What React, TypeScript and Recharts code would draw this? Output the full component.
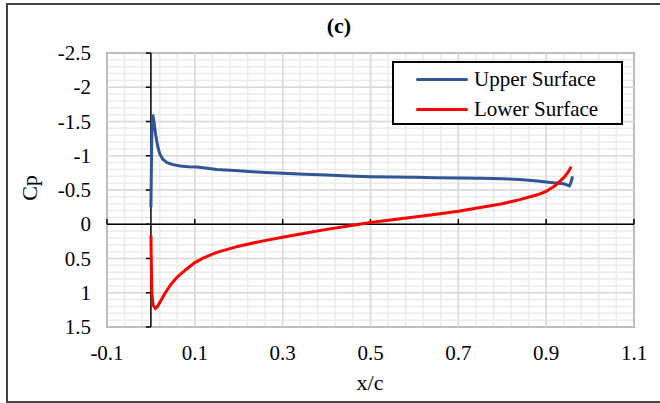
import React from 'react';
import {
  LineChart,
  Line,
  XAxis,
  YAxis,
  CartesianGrid,
  ReferenceLine,
  ReferenceArea,
} from 'recharts';

// Cp distribution, panel (c)
const upperX = [0, 0.001, 0.002, 0.004, 0.007, 0.011, 0.016, 0.02, 0.027, 0.037, 0.05, 0.067, 0.085, 0.105, 0.15, 0.2, 0.25, 0.3, 0.35, 0.4, 0.45, 0.5, 0.55, 0.6, 0.65, 0.7, 0.75, 0.8, 0.84, 0.88, 0.91, 0.94, 0.953, 0.957, 0.96];
const upperCp = [-0.25, -0.8, -1.3, -1.6, -1.5, -1.3, -1.12, -1.03, -0.95, -0.9, -0.87, -0.85, -0.84, -0.835, -0.8, -0.78, -0.76, -0.745, -0.73, -0.72, -0.705, -0.695, -0.69, -0.685, -0.68, -0.675, -0.67, -0.665, -0.655, -0.63, -0.61, -0.59, -0.56, -0.62, -0.7];

const lowerX = [0, 0.001, 0.002, 0.005, 0.01, 0.015, 0.022, 0.033, 0.045, 0.06, 0.08, 0.1, 0.12, 0.15, 0.2, 0.25, 0.3, 0.35, 0.4, 0.45, 0.5, 0.55, 0.6, 0.65, 0.7, 0.75, 0.8, 0.84, 0.88, 0.9, 0.92, 0.94, 0.95, 0.957];
const lowerCp = [0.16, 0.6, 1.0, 1.18, 1.23, 1.2, 1.12, 1.0, 0.88, 0.77, 0.66, 0.56, 0.49, 0.41, 0.32, 0.25, 0.19, 0.13, 0.075, 0.025, -0.025, -0.065, -0.105, -0.145, -0.19, -0.245, -0.3, -0.36, -0.43, -0.48, -0.56, -0.68, -0.76, -0.84];

const xMajor = [-0.1, 0.1, 0.3, 0.5, 0.7, 0.9, 1.1];
const yMajor = [-2.5, -2, -1.5, -1, -0.5, 0, 0.5, 1, 1.5];

const seriesNames = ['Upper Surface', 'Lower Surface'];
const seriesColors = ['#2F5597', '#FF0000'];

// minor grid steps
const xMinor: number[] = [];
for (let i = 0; i <= 30; i++) xMinor.push(Math.round((-0.1 + i * 0.04) * 1000) / 1000);
const yMinor: number[] = [];
for (let i = 0; i <= 40; i++) yMinor.push(Math.round((-2.5 + i * 0.1) * 1000) / 1000);

const upperData = upperX.map((x, i) => ({ x, cp: upperCp[i] }));
const lowerData = lowerX.map((x, i) => ({ x, cp: lowerCp[i] }));

const font = '"Liberation Serif", "Times New Roman", serif';

const isMajor = (v: number, list: number[]) => list.some((m) => Math.abs(m - v) < 1e-6);

const XTick = (props: any) => {
  const { x, y, payload } = props;
  if (!isMajor(payload.value, xMajor)) return null;
  return (
    <text x={x} y={y + 33} textAnchor="middle" fontSize={21} fill="#000" style={{ fontFamily: font }}>
      {String(payload.value)}
    </text>
  );
};

const YTick = (props: any) => {
  const { x, y, payload } = props;
  if (!isMajor(payload.value, yMajor)) return null;
  return (
    <text x={x - 16} y={y + 7} textAnchor="end" fontSize={21} fill="#000" style={{ fontFamily: font }}>
      {String(payload.value)}
    </text>
  );
};

export default function App() {
  return (
    <div
      style={{
        position: 'absolute',
        left: 0,
        top: 0,
        width: 660,
        height: 403,
        overflow: 'hidden',
        background: '#fff',
        fontFamily: font,
      }}
    >
      <div
        style={{
          position: 'absolute',
          left: 6,
          top: 3,
          width: 700,
          height: 396,
          border: '2px solid #444',
        }}
      />
      <div style={{ position: 'absolute', left: 0, top: 0 }}>
        <LineChart
          width={660}
          height={403}
          margin={{ top: 53, right: 26, bottom: 0, left: 17 }}
        >
          <CartesianGrid stroke="#EBEBEB" strokeWidth={1.5} />
          <XAxis
            dataKey="x"
            type="number"
            domain={[-0.1, 1.1]}
            ticks={xMinor}
            interval={0}
            allowDataOverflow
            axisLine={false}
            tickLine={false}
            tickSize={0}
            tickMargin={0}
            height={76}
            tick={<XTick />}
          />
          <YAxis
            dataKey="cp"
            type="number"
            reversed
            domain={[-2.5, 1.5]}
            ticks={yMinor}
            interval={0}
            allowDataOverflow
            axisLine={false}
            tickLine={false}
            tickSize={0}
            tickMargin={0}
            width={90}
            tick={<YTick />}
          />
          {xMajor.map((v) => (
            <ReferenceLine key={'gx' + v} x={v} stroke="#D9D9D9" strokeWidth={1.5} />
          ))}
          {yMajor.map((v) => (
            <ReferenceLine key={'gy' + v} y={v} stroke="#D9D9D9" strokeWidth={1.5} />
          ))}
          <ReferenceArea
            x1={-0.1}
            x2={1.1}
            y1={-2.5}
            y2={1.5}
            fill="none"
            fillOpacity={0}
            stroke="#404040"
            strokeWidth={1.5}
          />
          <ReferenceLine x={0} stroke="#000" strokeWidth={1.5} />
          <ReferenceLine y={0} stroke="#000" strokeWidth={1.5} />
          {xMajor.map((v) => (
            <ReferenceLine
              key={'tx' + v}
              segment={[{ x: v, y: 0 }, { x: v, y: -0.075 }]}
              stroke="#000"
              strokeWidth={1.5}
            />
          ))}
          {yMajor.map((v) => (
            <ReferenceLine
              key={'ty' + v}
              segment={[{ x: -0.0115, y: v }, { x: 0, y: v }]}
              stroke="#000"
              strokeWidth={1.5}
            />
          ))}
          <Line
            data={upperData}
            dataKey="cp"
            name={seriesNames[0]}
            type="linear"
            stroke={seriesColors[0]}
            strokeWidth={3}
            dot={false}
            isAnimationActive={false}
          />
          <Line
            data={lowerData}
            dataKey="cp"
            name={seriesNames[1]}
            type="linear"
            stroke={seriesColors[1]}
            strokeWidth={3}
            dot={false}
            isAnimationActive={false}
          />
        </LineChart>
      </div>
      <svg
        width={660}
        height={403}
        style={{ position: 'absolute', left: 0, top: 0, pointerEvents: 'none' }}
      >
        <text x={339} y={33} textAnchor="middle" fontSize={22} fontWeight="bold" style={{ fontFamily: font }}>
          (c)
        </text>
        <text x={370} y={390} textAnchor="middle" fontSize={22} style={{ fontFamily: font }}>
          x/c
        </text>
        <text
          transform="translate(37,188) rotate(-90)"
          textAnchor="middle"
          fontSize={22}
          style={{ fontFamily: font }}
        >
          Cp
        </text>
      </svg>
      <div
        style={{
          position: 'absolute',
          left: 392,
          top: 61,
          width: 227,
          height: 60,
          border: '2px solid #000',
          background: '#fff',
        }}
      >
        {seriesNames.map((name, i) => (
          <div
            key={name}
            style={{
              position: 'absolute',
              left: 0,
              top: 3 + i * 30,
              height: 26,
              display: 'flex',
              alignItems: 'center',
            }}
          >
            <div
              style={{
                marginLeft: 22,
                width: 52,
                height: 3,
                background: seriesColors[i],
                borderRadius: 1.5,
              }}
            />
            <span style={{ marginLeft: 6, fontSize: 21, color: '#000', whiteSpace: 'nowrap' }}>
              {name}
            </span>
          </div>
        ))}
      </div>
    </div>
  );
}
